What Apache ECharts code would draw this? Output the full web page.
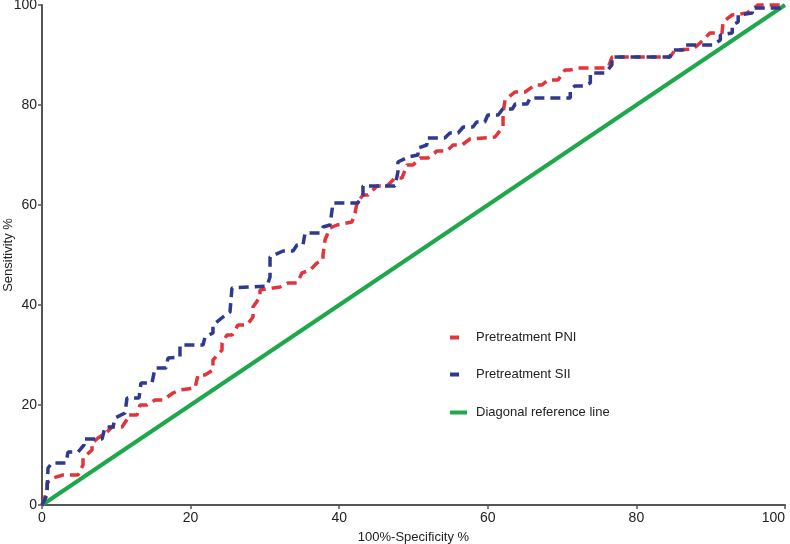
<!DOCTYPE html>
<html>
<head>
<meta charset="utf-8">
<script src="https://cdn.jsdelivr.net/npm/echarts@6/dist/echarts.min.js"></script>
<style>html,body{margin:0;padding:0;background:#fff}#c{width:790px;height:544px}</style>
</head>
<body>
<div id="c"></div>
<script>
var xTicks = [0, 20, 40, 60, 80, 100];
var yTicks = [0, 20, 40, 60, 80, 100];

var pniX = [0,0.27,0.67,0.67,1.48,2.83,4.85,5.52,5.52,6.73,6.73,7.54,8.75,9.42,10.77,11.57,11.57,12.79,13.19,14.13,15.21,16.29,17.63,18.57,20.59,21,21.94,23.01,23.01,24.23,24.23,24.9,25.57,26.38,27.59,28.4,28.4,29.34,29.34,32.03,33.11,34.32,34.99,36.07,37.01,37.82,37.82,38.09,38.76,39.7,41.72,42.13,42.4,43.2,43.88,45.09,46.43,47.51,48.45,49.13,49.93,50.87,51.95,53.16,54.51,55.32,56.53,57.6,60.97,62.05,62.05,62.32,63.66,65.01,66.35,67.29,68.1,69.45,70.39,71.06,72.14,76.18,76.72,84.52,85.2,87.62,88.56,89.9,91.52,91.66,92.87,94.89,96.37,100];
var pniY = [0,1,3,4.4,5.4,6,6,8,9.4,11,12.4,13.4,14.6,15.6,15.6,17.4,18,18,20,20,21,21,22.4,23,23.4,26,26,27,29,31,32.4,34,34,36,36,37.6,39.6,41.6,43,43.6,44.4,44.4,46.4,47,48.4,49,50,53,55.4,56,56.6,58.4,60.4,62,62,63.8,63.8,65.4,65.4,68,68,69.4,69.4,70.8,70.8,72,72,73.2,73.6,75.6,78.4,81,82.6,82.6,84,84,85,85,87,87,87.4,87.4,89.6,89.6,91,91.2,92.4,94.4,94.4,96.6,98,98.4,100,100];

var siiX = [0,0.67,0.81,1.35,3.23,3.5,4.85,5.65,5.65,8.08,8.48,9.56,9.83,11.17,11.44,13.06,13.32,14.8,15.21,16.69,16.96,18.57,18.57,21.67,21.94,23.01,23.01,24.36,25.3,25.57,30.28,30.69,30.69,32.44,33.78,34.32,35.13,35.4,37.42,37.82,38.76,39.17,42.5,43.2,43.2,47.5,47.9,47.9,49.3,50.6,50.6,51.8,51.8,54.2,54.9,56,56.7,58,58.5,59.6,60,61.4,62,63.3,63.7,65.3,65.7,71.1,71.1,71.7,72.8,73.8,73.8,75.8,76.7,76.7,84.5,84.9,86.3,86.5,90.2,91.3,91.3,92.9,92.9,93.7,93.7,95.6,95.6,99.3,100];
var siiY = [0,2,7.4,8.4,8.4,10.6,10.6,12,13.2,13.2,15.6,15.6,17.4,18.4,21.4,21.4,24.4,24.4,27.4,27.4,29.4,29.6,32,32,33.6,34.4,36,37.6,38.6,43.4,43.8,45.6,49.6,50.8,50.8,52,52,54.4,54.4,55.6,56,60.4,60.4,62,63.8,63.8,66.6,68.6,69.6,70,71.4,72,73.4,73.4,74.4,74.4,75.6,75.6,76.6,76.6,78,78,79.2,79.2,80.2,80.2,81.4,81.4,83,83.8,83.8,84.4,86.4,86.4,88,89.6,89.6,91,91,92,92,93,94,94.4,96,96.6,98,98.4,99.4,99.4,100];

var diagX = [0, 100];
var diagY = [0, 100];

function pairs(xs, ys) { return xs.map(function (v, i) { return [v, ys[i]]; }); }

var FONT = 'Liberation Sans, Arial, sans-serif';
var RED = '#e4343b', BLUE = '#2e3990', GREEN = '#1ea84b';

var chart = echarts.init(document.getElementById('c'));
chart.setOption({
  animation: false,
  backgroundColor: '#fff',
  grid: { left: 42, right: 5, top: 5, bottom: 39, containLabel: false, outerBoundsMode: 'none' },
  xAxis: {
    type: 'value', min: 0, max: 100, interval: 20,
    name: '100%-Specificity %', nameLocation: 'middle', nameGap: 26, nameMoveOverlap: false,
    nameTextStyle: { fontFamily: FONT, fontSize: 13, color: '#222' },
    axisLine: { lineStyle: { color: '#555', width: 2 } },
    axisTick: { show: true, length: 4, lineStyle: { color: '#555', width: 1.5 } },
    axisLabel: { fontFamily: FONT, fontSize: 14, color: '#222', margin: 6, alignMaxLabel: 'right',
      formatter: function (v) { return xTicks.indexOf(v) >= 0 ? String(v) : ''; } },
    splitLine: { show: false }
  },
  yAxis: {
    type: 'value', min: 0, max: 100, interval: 20,
    name: 'Sensitivity %', nameLocation: 'middle', nameGap: 27, nameRotate: 90, nameMoveOverlap: false,
    nameTextStyle: { fontFamily: FONT, fontSize: 13, color: '#222' },
    axisLine: { show: true, lineStyle: { color: '#555', width: 2 } },
    axisTick: { show: true, length: 4, lineStyle: { color: '#555', width: 1.5 } },
    axisLabel: { fontFamily: FONT, fontSize: 14, color: '#222', margin: 5,
      formatter: function (v) { return yTicks.indexOf(v) >= 0 ? String(v) : ''; } },
    splitLine: { show: false }
  },
  legend: [
    {
      data: ['Pretreatment PNI', 'Pretreatment SII'],
      orient: 'vertical', left: 450, top: 331, padding: 0,
      itemWidth: 9, itemHeight: 4, itemGap: 24, icon: 'rect',
      textStyle: { fontFamily: FONT, fontSize: 13, color: '#222', padding: [0, 0, 0, 12] }
    },
    {
      data: ['Diagonal reference line'],
      orient: 'vertical', left: 450, top: 406, padding: 0,
      itemWidth: 17, itemHeight: 4, icon: 'rect',
      textStyle: { fontFamily: FONT, fontSize: 13, color: '#222', padding: [0, 0, 0, 4] }
    }
  ],
  series: [
    {
      name: 'Diagonal reference line', type: 'line', data: pairs(diagX, diagY),
      showSymbol: false, symbol: 'none', clip: false, z: 2,
      lineStyle: { color: GREEN, width: 4 }, itemStyle: { color: GREEN }
    },
    {
      name: 'Pretreatment PNI', type: 'line', data: pairs(pniX, pniY),
      showSymbol: false, symbol: 'none', clip: false, z: 3,
      lineStyle: { color: RED, width: 3.5, type: [10, 6] }, itemStyle: { color: RED }
    },
    {
      name: 'Pretreatment SII', type: 'line', data: pairs(siiX, siiY),
      showSymbol: false, symbol: 'none', clip: false, z: 4,
      lineStyle: { color: BLUE, width: 3.5, type: [10, 6] }, itemStyle: { color: BLUE }
    }
  ]
});
</script>
</body>
</html>
